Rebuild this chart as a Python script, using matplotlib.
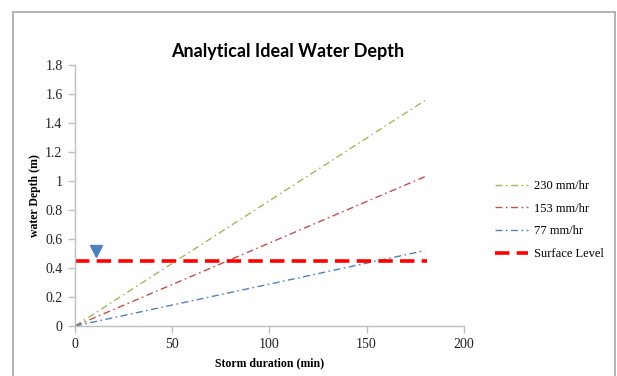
import matplotlib
matplotlib.use("Agg")
import matplotlib.pyplot as plt
from matplotlib.patches import Rectangle

# Data
duration = [0, 180]
depth_230 = [0, 1.555]
depth_153 = [0, 1.03]
depth_77 = [0, 0.52]
surface_x = [0, 181]
surface_y = [0.45, 0.45]
marker_x = [11]
marker_y = [0.52]
series_labels = ["230 mm/hr", "153 mm/hr", "77 mm/hr", "Surface Level"]
xticks = [0, 50, 100, 150, 200]
yticks = [0, 0.2, 0.4, 0.6, 0.8, 1, 1.2, 1.4, 1.6, 1.8]
ytick_labels = ["0", "0.2", "0.4", "0.6", "0.8", "1", "1.2", "1.4", "1.6", "1.8"]

serif = "Liberation Serif"
plt.rcParams["font.family"] = [serif, "DejaVu Serif"]

W, H = 617, 376
fig = plt.figure(figsize=(W / 100, H / 100), dpi=100)
fig.patch.set_facecolor("white")

# outer chart border
fig.patches.append(Rectangle((13 / W, -0.2), (615 - 13) / W, 1 - 12 / H + 0.2,
                             transform=fig.transFigure, fill=False,
                             edgecolor="#A6A6A6", linewidth=1.2))

ax = fig.add_axes([75 / W, 1 - 326 / H, (463.8 - 75) / W, (326 - 65) / H])

dd = (0, (5, 2.5, 1.2, 2.5))
ax.plot(duration, depth_230, color="#9BBB59", lw=1.0, linestyle=dd, label=series_labels[0])
ax.plot(duration, depth_153, color="#C0504D", lw=1.0, linestyle=dd, label=series_labels[1])
ax.plot(duration, depth_77, color="#4F81BD", lw=1.0, linestyle=dd, label=series_labels[2])
ax.plot(surface_x, surface_y, color="#FF0000", lw=2.6, linestyle=(0, (4, 2)), label=series_labels[3])
ax.plot(marker_x, marker_y, marker="v", color="#4F81BD", markersize=9, linestyle="none")

ax.set_xlim(0, 200)
ax.set_ylim(0, 1.8)
ax.set_xticks(xticks)
ax.set_yticks(yticks)
ax.set_yticklabels(ytick_labels)
for s in ["top", "right"]:
    ax.spines[s].set_visible(False)
for s in ["left", "bottom"]:
    ax.spines[s].set_color("#BFBFBF")
    ax.spines[s].set_linewidth(1.0)
ax.tick_params(axis="both", direction="out", length=5, width=1, color="#BFBFBF",
               labelsize=10, labelcolor="#222222", pad=4)

ax.set_xlabel("Storm duration (min)", fontweight="bold", fontsize=8.5, labelpad=4)
ax.set_ylabel("water Depth (m)", fontweight="bold", fontsize=8.5, labelpad=3)

fig.text(288 / W, 1 - 51 / H, "Analytical Ideal Water Depth", ha="center", va="center",
         fontfamily="Lato", fontweight="bold", fontsize=13)

handles, labels = ax.get_legend_handles_labels()
leg = fig.legend(handles, labels, loc="upper left", bbox_to_anchor=(490 / W, 1 - 175 / H),
                 frameon=False, prop={"size": 9},
                 handlelength=2.6, handletextpad=0.5, labelspacing=0.85, borderaxespad=0)

fig.savefig("out.png", dpi=100)
